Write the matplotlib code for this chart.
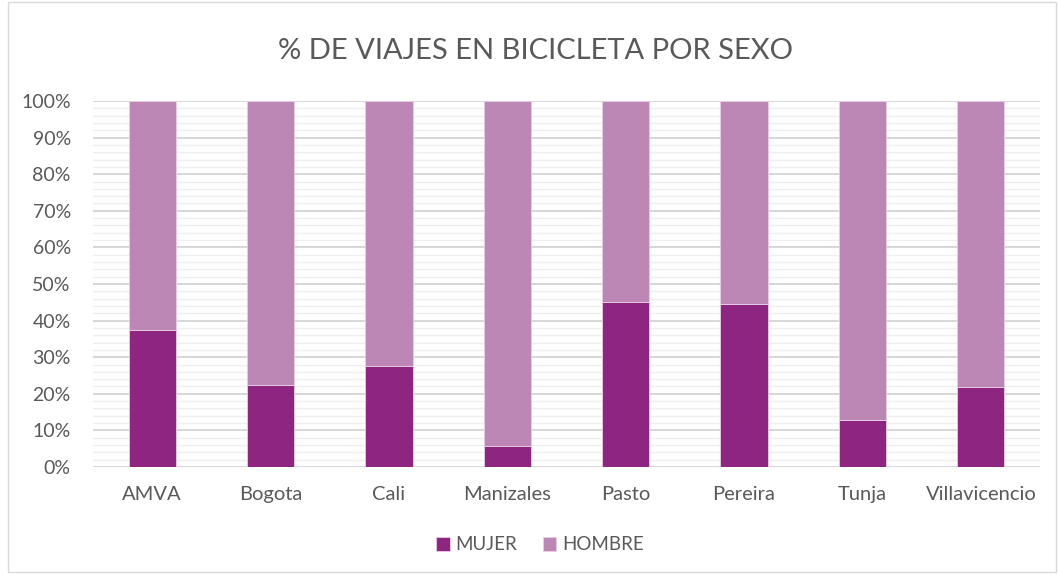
import matplotlib
matplotlib.use("Agg")
import matplotlib.pyplot as plt
from matplotlib.ticker import MultipleLocator, PercentFormatter
from matplotlib.patches import Rectangle
import numpy as np

categories = ["AMVA", "Bogota", "Cali", "Manizales", "Pasto", "Pereira", "Tunja", "Villavicencio"]
mujer = [37.4, 22.4, 27.6, 5.7, 45.1, 44.5, 12.8, 21.9]
hombre = [100 - v for v in mujer]

c_mujer = "#8E2581"
c_hombre = "#BD87B5"
txt = "#595959"

plt.rcParams['font.family'] = ['Lato', 'DejaVu Sans']

fig = plt.figure(figsize=(10.58, 5.75), dpi=100)
ax = fig.add_axes([93/1058, 1-467/575, (1040-93)/1058, (467-101)/575])

x = np.arange(len(categories))
w = 0.40
ax.bar(x, mujer, w, color=c_mujer, edgecolor="#E8D0E4", linewidth=0.6, label="MUJER", zorder=3)
ax.bar(x, hombre, w, bottom=mujer, color=c_hombre, edgecolor="#E8D0E4", linewidth=0.6, label="HOMBRE", zorder=3)

ax.set_xlim(-0.5, len(categories) - 0.5)
ax.set_ylim(0, 100)
ax.yaxis.set_major_locator(MultipleLocator(10))
ax.yaxis.set_minor_locator(MultipleLocator(2))
ax.yaxis.set_major_formatter(PercentFormatter(decimals=0))
ax.grid(axis='y', which='major', color="#D0D0D0", linewidth=1.2, zorder=0)
ax.grid(axis='y', which='minor', color="#EFEFEF", linewidth=1.0, zorder=0)
for s in ax.spines.values():
    s.set_visible(False)
ax.tick_params(axis='both', which='both', length=0, colors=txt, labelsize=14)
ax.tick_params(axis='x', pad=14, labelsize=14.5)
ax.tick_params(axis='y', pad=16)
ax.set_xticks(x)
ax.set_xticklabels(categories)

fig.text(535/1058, 1-51/575, "% DE VIAJES EN BICICLETA POR SEXO", ha='center', va='center',
         fontsize=21, color=txt)

leg = fig.legend(loc='center', bbox_to_anchor=(540/1058, 1-545/575), ncol=2, frameon=False,
                 fontsize=13.5, handlelength=0.7, handleheight=0.7, handletextpad=0.3,
                 columnspacing=1.4)
for t in leg.get_texts():
    t.set_color(txt)

fig.patches.append(Rectangle((8/1058, 3/575), 1048/1058, 570/575, transform=fig.transFigure,
                             fill=False, edgecolor="#D9D9D9", linewidth=1))

fig.savefig("out.png", dpi=100)
